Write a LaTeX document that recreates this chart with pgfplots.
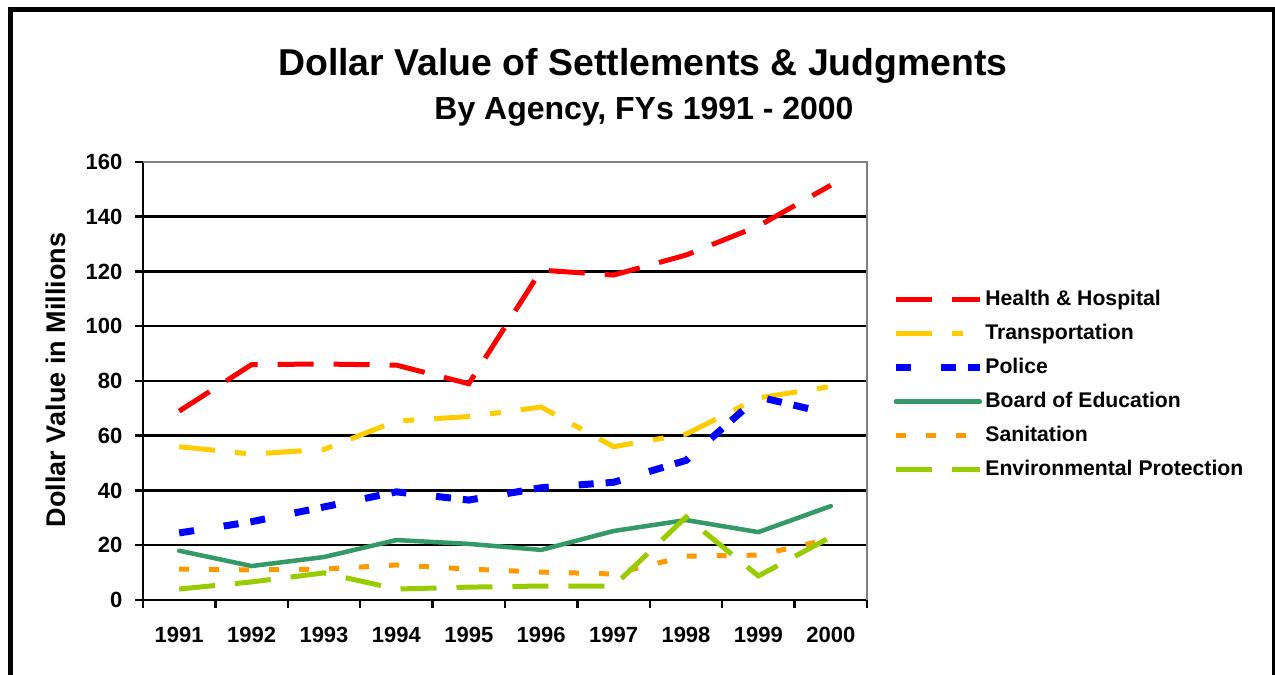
\documentclass[border=0pt]{standalone}
\usepackage{pgfplots}
\pgfplotsset{compat=1.18}
\usepackage{fontspec}
\setmainfont{Liberation Sans}
\definecolor{hh}{RGB}{255,0,0}
\definecolor{tr}{RGB}{255,204,0}
\definecolor{po}{RGB}{0,0,255}
\definecolor{be}{RGB}{51,153,102}
\definecolor{sa}{RGB}{255,153,0}
\definecolor{ep}{RGB}{153,204,0}
\begin{document}
\begin{tikzpicture}[x=0.5pt,y=0.5pt]
\useasboundingbox (0,0) rectangle (1275,675);
\draw[line width=2.5pt] (10.5,-40) -- (10.5,665.5) -- (1274,665.5) -- (1274,-40);
\node[anchor=base,font=\fontsize{18.7}{22}\selectfont\bfseries] at (643,599) {Dollar Value of Settlements \& Judgments};
\node[anchor=base,font=\fontsize{16}{19}\selectfont\bfseries] at (644,555) {By Agency, FYs 1991 - 2000};
\node[rotate=90,font=\fontsize{13.5}{16}\selectfont\bfseries] at (56,295) {Dollar Value in Millions};
\begin{axis}[
  at={(71.5pt,37.5pt)}, anchor=south west,
  scale only axis, width=362pt, height=219pt,
  xmin=0.5, xmax=10.5, ymin=0, ymax=160,
  axis lines=left, axis line style={-, line width=1.25pt, black},
  xtick={0.5,1.5,2.5,3.5,4.5,5.5,6.5,7.5,8.5,9.5,10.5},
  x tick label as interval,
  xticklabels={1991,1992,1993,1994,1995,1996,1997,1998,1999,2000},
  ytick={0,20,40,60,80,100,120,140,160},
  extra y ticks={20,40,60,80,100,120,140},
  extra y tick labels={},
  extra y tick style={ymajorgrids=true, major tick length=0pt, grid style={black, line width=1.25pt}},
  tick align=outside, major tick length=4pt,
  tick style={black, line width=1.25pt},
  /pgf/number format/assume math mode=true,
  ticklabel style={font=\fontsize{11}{13}\selectfont\bfseries},
  xticklabel style={yshift=-6pt},
  yticklabel style={xshift=-2.8pt},
  clip=false,
  legend style={at={(1.0262,0.719)}, anchor=north west, draw=none, fill=none,
    font=\fontsize{10.6}{12}\selectfont\bfseries, row sep=7pt, column sep=1pt,
    nodes={inner sep=0pt, text height=8pt, text depth=2pt}, cells={anchor=west}},
  legend image code/.code={\draw[#1] (0pt,0pt) -- (42pt,0pt);},
]
\draw[gray, line width=1.25pt] (rel axis cs:0,1) -- (rel axis cs:1,1) -- (rel axis cs:1,0);
\addplot[hh, line width=2.5pt, dash pattern=on 18pt off 10pt] coordinates {
(1,69) (2,86) (3,86.2) (4,85.8) (5,79) (6,120.5) (7,118.7) (8,126) (9,136.6) (10,151.5)};
\addlegendentry{Health \& Hospital}
\addplot[tr, line width=2.5pt, dash pattern=on 18pt off 10pt on 5.5pt off 10pt] coordinates {
(1,56) (2,53.3) (3,55) (4,65.4) (5,67) (6,70.5) (7,56) (8,60.6) (9,73.8) (10,78)};
\addlegendentry{Transportation}
\addplot[po, line width=3.5pt, dash pattern=on 7.5pt off 15pt on 7.5pt off 6pt] coordinates {
(1,24.5) (2,28.6) (3,34) (4,39.5) (5,36.5) (6,41) (7,43) (8,51) (9,74.2) (10,68)};
\addlegendentry{Police}
\addplot[be, line width=2.25pt, line cap=round, line join=round] coordinates {
(1,18) (2,12.4) (3,15.7) (4,21.9) (5,20.5) (6,18.3) (7,25.2) (8,29.2) (9,24.8) (10,34.3)};
\addlegendentry{Board of Education}
\addplot[sa, line width=2.5pt, dash pattern=on 5pt off 10pt] coordinates {
(1,11.3) (2,11) (3,11.3) (4,12.8) (5,11.3) (6,10.2) (7,9.5) (8,16) (9,16.4) (10,22.3)};
\addlegendentry{Sanitation}
\addplot[ep, line width=2.5pt, dash pattern=on 18pt off 10pt] coordinates {
(1,4) (2,6.6) (3,9.9) (4,4) (5,4.7) (6,5.1) (7,5.1) (8,30.3) (9,8.8) (10,23)};
\addlegendentry{Environmental Protection}
\end{axis}
\end{tikzpicture}
\end{document}
